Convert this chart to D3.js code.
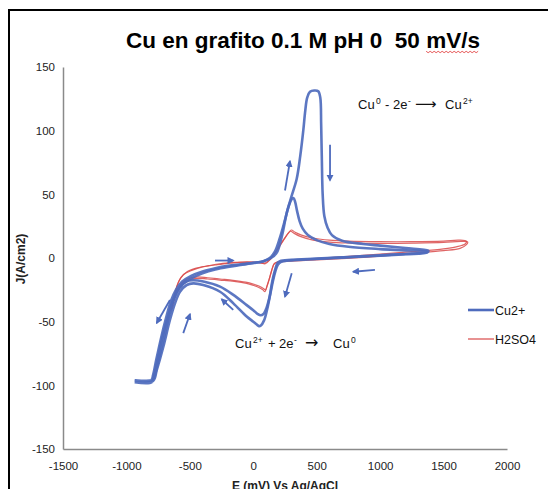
<!DOCTYPE html>
<html>
<head>
<meta charset="utf-8">
<script src="https://cdn.jsdelivr.net/npm/d3@7"></script>
<style>
  body { margin: 0; background: #fff; }
  svg { font-family: "Liberation Sans", Arial, sans-serif; }
</style>
</head>
<body>
<div id="grafico"></div>
<script>
// datos (E en mV, J en A/cm2)
const ticksX = [-1500, -1000, -500, 0, 500, 1000, 1500, 2000];
const ticksY = [-150, -100, -50, 0, 50, 100, 150];

const cuCiclo1 = [
  [-935,-97.5],[-800,-97.5],[-785,-93],[-760,-82],[-720,-64],[-683,-50],[-640,-35],[-600,-26],
  [-550,-20],[-480,-15.5],[-400,-12],[-300,-9],[-200,-7],[-100,-5.5],[0,-4],[80,-2.5],[140,0],
  [184,4],[225,17],[263,35],[300,48],[342,62],[370,80],[394,100],[410,116],[425,126],[447,130.5],
  [480,131.5],[512,131],[528,126],[535,105],[540,80],[547,50],[560,33],[585,24],[620,18],[700,13.5],
  [867,11],[1000,9.7],[1200,7.8],[1377,5.8],
  [1380,5],[1250,3.5],[1000,2.2],[750,0.8],[500,-0.5],[300,-1.5],[210,-2.5],[190,-4],[170,-10],
  [150,-18],[130,-30],[110,-40],[85,-49],[60,-53],[45,-53.5],[25,-52],[0,-50],[-52,-46],
  [-157,-35.6],[-262,-26.5],[-394,-21.2],[-473,-19.9],[-525,-21.2],[-578,-26.5],[-617,-35.6],
  [-657,-48.7],[-709,-69.7],[-761,-88],[-790,-96.5],[-935,-97.5]
];

const cuCiclo2 = [
  [-935,-96],[-805,-96],[-790,-92],[-765,-80],[-725,-62],[-690,-48],[-650,-34],[-610,-25],
  [-560,-18.5],[-490,-14],[-400,-10.5],[-300,-8],[-200,-6.2],[-100,-5],[0,-3.8],[80,-2.5],[130,0],
  [170,5],[210,16],[250,30],[280,41],[305,46.5],[318,47],[330,44],[345,37],[365,29],[390,23],
  [430,18],[500,14],[600,11],[750,8.8],[1000,7],[1200,6],[1370,5],
  [1370,4.2],[1200,3],[1000,1.8],[700,0.3],[450,-1],[280,-2],[220,-3],[195,-5],[175,-10],
  [155,-18],[130,-30],[105,-39],[80,-44],[58,-45],[35,-44],[0,-41],[-52,-37],[-157,-29],
  [-262,-22.5],[-394,-18.5],[-473,-17.5],[-530,-18.5],[-580,-23],[-620,-31],[-660,-44],
  [-705,-63],[-755,-84],[-785,-94.5],[-800,-96],[-935,-96]
];

const h2so4Ciclo1 = [
  [-650,-42],[-640,-38],[-625,-31],[-604,-22.5],[-575,-16],[-525,-11],[-450,-8],[-350,-6],
  [-262,-4.5],[-150,-3.5],[-50,-3],[40,-3.5],[90,-4],[130,-1.5],[160,2],[200,8],[245,15],
  [275,19.5],[295,21],[320,19.5],[370,17],[471,14.1],[600,12.5],[736,11.8],[1000,11.5],
  [1259,11.7],[1500,12.2],[1640,13],[1690,12.5],
  [1680,10.5],[1630,7.6],[1500,5.8],[1259,3.7],[1000,1.5],[736,-0.3],[500,-1.5],[300,-2.5],
  [200,-3],[165,-4.5],[145,-10],[125,-17],[105,-23],[92,-26.5],[75,-25],[40,-23],[0,-21.5],
  [-53,-19.9],[-150,-18.3],[-262,-17.3],[-360,-16.5],[-446,-16],[-500,-17.2],[-525,-18.6],
  [-570,-22],[-604,-27.7],[-630,-35],[-650,-42]
];

const h2so4Ciclo2 = [
  [-640,-40],[-630,-35],[-612,-26],[-590,-19],[-550,-13],[-480,-9.5],[-400,-7],[-300,-5.5],
  [-200,-4.2],[-100,-3.5],[0,-3.2],[60,-3.8],[95,-4.5],[135,-1],[170,4],[210,10],[250,16],
  [280,20],[300,22],[330,20.2],[380,18],[480,15.5],[600,14],[750,13.2],[1000,12.8],[1250,12.8],
  [1500,13.3],[1620,14],[1680,13.2],
  [1670,11],[1600,8.8],[1500,7.2],[1250,5],[1000,3],[750,1.2],[500,-0.5],[300,-1.8],[210,-2.5],
  [170,-4],[150,-8],[130,-15],[110,-21.5],[97,-25],[80,-24],[45,-22],[0,-20.5],[-60,-19],
  [-160,-17.5],[-262,-16.5],[-360,-15.5],[-440,-14.8],[-500,-15.8],[-540,-17.5],[-580,-21.5],
  [-610,-27],[-640,-40]
];

// flechas de direccion del barrido [E1, J1, E2, J2]
const flechas = [
  [250,53,289,76],
  [605,89,605,61],
  [-302,-2,-158,-2],
  [959,-9.4,788,-10.8],
  [303,-12,250,-30.4],
  [-158,-40.8,-249,-32.4],
  [-657,-33,-761,-51],
  [-552,-59,-499,-44]
];

const seriesNombres = ["Cu2+", "H2SO4"];
const colores = ["#4e6bbd", "#d94a4a"];

const dim = {
  ancho: 553,
  alto: 489,
  margen: { top: 67, right: 46, bottom: 40, left: 63 }
};
dim.grAncho = dim.ancho - dim.margen.left - dim.margen.right;
dim.grAlto = 449 - dim.margen.top;

const svg = d3.select("#grafico")
  .append("svg")
    .attr("width", dim.ancho)
    .attr("height", dim.alto);

// marco exterior (solo arriba e izquierda visibles)
svg.append("line")
  .attr("x1", 9).attr("y1", 10).attr("x2", 548).attr("y2", 10)
  .attr("stroke", "#000").attr("stroke-width", 2);
svg.append("line")
  .attr("x1", 9).attr("y1", 9).attr("x2", 9).attr("y2", 489)
  .attr("stroke", "#000").attr("stroke-width", 2);

const titulo = svg.append("text")
  .attr("x", 303)
  .attr("y", 48)
  .attr("text-anchor", "middle")
  .style("white-space", "pre")
  .style("font-size", "22.5px")
  .style("font-weight", "bold")
  .attr("fill", "#000");
titulo.append("tspan").text("Cu en grafito 0.1 M pH 0  50 ");
const mv = titulo.append("tspan").text("mV/s");

// subrayado ondulado rojo
const bb = mv.node().getBBox();
const onda = [];
for (let xx = bb.x; xx <= bb.x + bb.width; xx += 2) {
  onda.push([xx, 51.5 + ((Math.round((xx - bb.x) / 2)) % 2 ? 1.2 : -0.2)]);
}
svg.append("path")
  .attr("d", d3.line()(onda))
  .attr("fill", "none")
  .attr("stroke", "#e03030")
  .attr("stroke-width", 0.8);

const granice = svg.append("g")
  .attr("transform", `translate(${dim.margen.left},${dim.margen.top})`);

const xSkala = d3.scaleLinear()
  .domain([-1500, 2000])
  .range([0, dim.grAncho]);

const ySkala = d3.scaleLinear()
  .domain([-150, 150])
  .range([dim.grAlto, 0]);

// ejes
const xOs = granice.append("g")
  .attr("transform", `translate(0,${dim.grAlto})`)
  .call(d3.axisBottom(xSkala).tickValues(ticksX).tickFormat(d => String(d)).tickSize(0).tickPadding(13));
const yOs = granice.append("g")
  .call(d3.axisLeft(ySkala).tickValues(ticksY).tickFormat(d => String(d)).tickSize(0).tickPadding(8));

[xOs, yOs].forEach(os => {
  os.select(".domain").attr("stroke", "#8a8a8a").attr("stroke-width", 1.5);
  os.selectAll("text")
    .style("font-family", "'Liberation Sans', Arial, sans-serif")
    .style("font-size", "11.5px")
    .attr("fill", "#222");
});

svg.append("text")
  .attr("transform", "translate(25,259) rotate(-90)")
  .attr("text-anchor", "middle")
  .style("font-size", "12px")
  .style("font-weight", "bold")
  .attr("fill", "#222")
  .text("J(A/cm2)");

svg.append("text")
  .attr("x", 285)
  .attr("y", 490)
  .attr("text-anchor", "middle")
  .style("font-size", "12px")
  .style("font-weight", "bold")
  .attr("fill", "#222")
  .text("E (mV) Vs Ag/AgCl");

const linea = d3.line()
  .x(d => xSkala(d[0]))
  .y(d => ySkala(d[1]))
  .curve(d3.curveCatmullRom.alpha(0.5));

[h2so4Ciclo1, h2so4Ciclo2].forEach(ciclo => {
  granice.append("path")
    .datum(ciclo)
    .attr("d", linea)
    .attr("fill", "none")
    .attr("stroke", colores[1])
    .attr("stroke-width", 1.2)
    .attr("stroke-opacity", 0.85);
});

[cuCiclo2, cuCiclo1].forEach(ciclo => {
  granice.append("path")
    .datum(ciclo)
    .attr("d", linea)
    .attr("fill", "none")
    .attr("stroke", colores[0])
    .attr("stroke-width", 2.6)
    .attr("stroke-linejoin", "round")
    .attr("stroke-opacity", 0.92);
});

// flechas
svg.append("defs").append("marker")
  .attr("id", "punta")
  .attr("viewBox", "0 0 10 10")
  .attr("refX", 8).attr("refY", 5)
  .attr("markerWidth", 4).attr("markerHeight", 4)
  .attr("orient", "auto")
  .append("path")
    .attr("d", "M0,0 L10,5 L0,10 z")
    .attr("fill", colores[0]);

granice.selectAll(".flecha")
  .data(flechas)
  .join("line")
    .attr("class", "flecha")
    .attr("x1", d => xSkala(d[0]))
    .attr("y1", d => ySkala(d[1]))
    .attr("x2", d => xSkala(d[2]))
    .attr("y2", d => ySkala(d[3]))
    .attr("stroke", colores[0])
    .attr("stroke-width", 1.8)
    .attr("marker-end", "url(#punta)");

// anotaciones de reaccion (trozos con su posicion x)
function reaccion(x0, y0, trozos) {
  const g = svg.append("g").attr("fill", "#111");
  trozos.forEach(t => {
    const tx = g.append("text")
      .attr("x", x0 + t.dx)
      .attr("y", y0 + (t.sup ? -5 : 0))
      .style("font-size", t.sup ? "8.5px" : (t.flecha ? t.flecha : "13px"))
      .text(t.txt);
    if (t.flecha) tx.style("font-family", "'DejaVu Sans', sans-serif");
  });
}
reaccion(358, 109, [
  { txt: "Cu", dx: 0 }, { txt: "0", dx: 18, sup: true },
  { txt: "-", dx: 27 }, { txt: "2e", dx: 35 }, { txt: "-", dx: 50, sup: true },
  { txt: "\u27F6", dx: 57, flecha: "15px" },
  { txt: "Cu", dx: 87 }, { txt: "2+", dx: 105, sup: true }
]);
reaccion(235, 348, [
  { txt: "Cu", dx: 0 }, { txt: "2+", dx: 18, sup: true },
  { txt: "+", dx: 33 }, { txt: "2e", dx: 44 }, { txt: "-", dx: 59, sup: true },
  { txt: "\u2192", dx: 70, flecha: "16px" },
  { txt: "Cu", dx: 98 }, { txt: "0", dx: 116, sup: true }
]);

// leyenda
const leyenda = svg.append("g");
seriesNombres.forEach((nombre, i) => {
  const y = 310 + i * 29;
  leyenda.append("line")
    .attr("x1", 468).attr("x2", 494)
    .attr("y1", y).attr("y2", y)
    .attr("stroke", colores[i])
    .attr("stroke-width", i === 0 ? 2.6 : 1.2);
  leyenda.append("text")
    .attr("x", 495).attr("y", y + 4.5)
    .style("font-size", "12.5px")
    .attr("fill", "#111")
    .text(nombre);
});
</script>
</body>
</html>
